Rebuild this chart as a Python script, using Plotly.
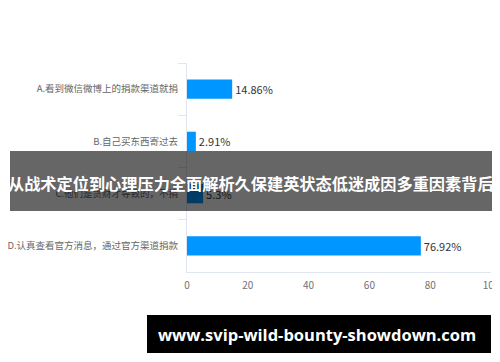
import plotly.graph_objects as go

categories = [
    "A.看到微信微博上的捐款渠道就捐",
    "B.自己买东西寄过去",
    "C.他们是贪财才导致的，不捐",
    "D.认真查看官方消息，通过官方渠道捐款",
]
values = [14.86, 2.91, 5.3, 76.92]
x_ticks = [0, 20, 40, 60, 80, 100]
banner_title = "从战术定位到心理压力全面解析久保建英状态低迷成因多重因素背后"
banner_url = "www.svip-wild-bounty-showdown.com"

# page body has an 8px default margin, so work in shifted pixel coordinates
OFF = 8
W, H = 500 - OFF, 362 - OFF
L, R, T, B = 187 - OFF, 491 - OFF, 63 - OFF, 272 - OFF  # plot area in pixels


def px(x):
    return (x - OFF - L) / (R - L)


def py(y):
    return (B - (y - OFF)) / (B - T)


fig = go.Figure(
    go.Bar(
        y=categories,
        x=values,
        orientation="h",
        marker=dict(color="#0096ff", line=dict(width=0)),
        width=0.37,
        texttemplate="%{x}%",
        textposition="outside",
        textfont=dict(color="#333333", size=11, family="Noto Sans CJK SC"),
        cliponaxis=False,
        hoverinfo="skip",
    )
)

fig.update_layout(
    width=W,
    height=H,
    margin=dict(l=L, r=W - R, t=T, b=H - B, pad=0, autoexpand=False),
    paper_bgcolor="white",
    plot_bgcolor="white",
    showlegend=False,
    font=dict(family="Noto Sans CJK SC", color="#666666"),
    xaxis=dict(
        range=[0, 100],
        tickvals=x_ticks,
        showgrid=False,
        zeroline=False,
        showline=True,
        linecolor="#e0e6f1",
        linewidth=1,
        ticks="",
        ticklabelstandoff=4,
        tickfont=dict(size=10, color="#6e7079"),
        automargin=False,
        fixedrange=True,
    ),
    yaxis=dict(
        autorange="reversed",
        showgrid=False,
        zeroline=False,
        showline=True,
        linecolor="#e0e6f1",
        linewidth=1,
        ticks="outside",
        tickson="boundaries",
        ticklen=8,
        tickcolor="#e0e6f1",
        ticklabelstandoff=6,
        tickfont=dict(size=9.5, color="#666666"),
        automargin=False,
        fixedrange=True,
    ),
    shapes=[
        dict(
            type="rect", xref="paper", yref="paper",
            x0=px(10), x1=px(492), y0=py(211), y1=py(151),
            fillcolor="rgba(0,0,0,0.6)", line=dict(width=0), layer="above",
        ),
        dict(
            type="rect", xref="paper", yref="paper",
            x0=px(147), x1=px(491), y0=py(353), y1=py(315),
            fillcolor="black", line=dict(width=0), layer="above",
        ),
    ],
    annotations=[
        dict(
            text="<b>" + banner_title + "</b>", xref="paper", yref="paper",
            x=px(251), y=py(183), xanchor="center", yanchor="middle",
            showarrow=False,
            font=dict(size=16.2, color="white", family="Noto Sans CJK SC"),
        ),
        dict(
            text="<b>" + banner_url + "</b>", xref="paper", yref="paper",
            x=px(317), y=py(334), xanchor="center", yanchor="middle",
            showarrow=False,
            font=dict(size=16.5, color="white", family="Open Sans"),
        ),
    ],
)

fig.write_html("out.html")
